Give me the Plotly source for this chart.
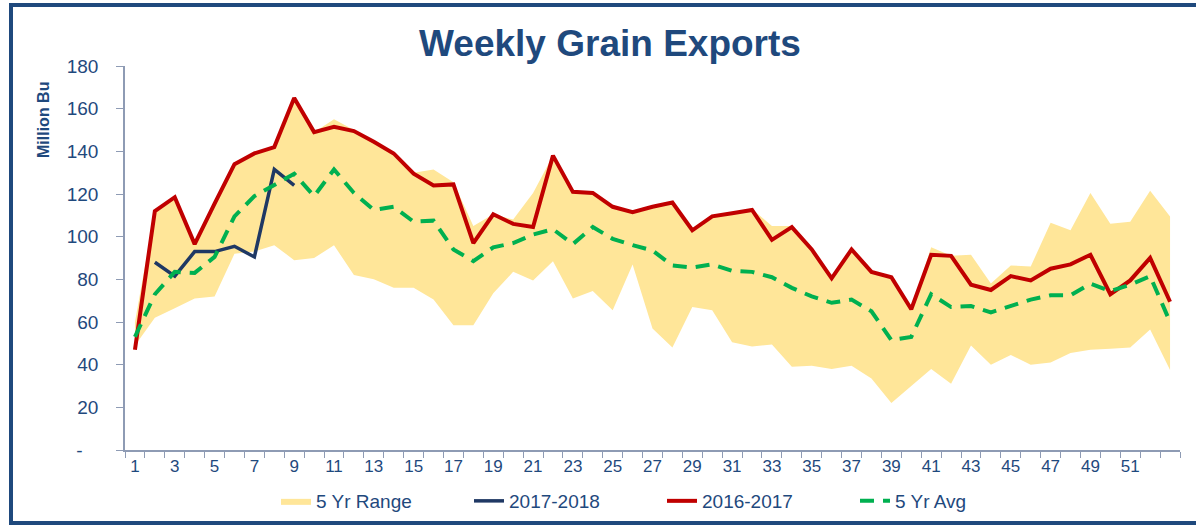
import plotly.graph_objects as go

weeks = list(range(1, 54))

range_low = [49, 62, 66.5, 71, 72, 92, 93, 96, 89, 90, 96, 82, 80, 76, 76, 70.5, 58.5, 58.5,
             73.5, 83.5, 79.5, 88.5, 71, 74.5, 65.5, 87, 57, 48, 67, 65.5, 50.5, 48.5, 49.5,
             39, 39.5, 38, 39.5, 33.5, 22, 30, 38, 31, 49, 40, 44.5, 40, 41, 45.5, 47, 47.5,
             48, 56.5, 37.5]
range_high = [60, 112, 118.5, 97, 115.5, 134, 139, 142, 165, 149, 155, 150, 145, 139.5, 130,
              131.5, 125.5, 105, 110.5, 108, 120.5, 138, 121, 120.5, 114, 111.5, 114, 116, 104,
              110, 111, 113, 105, 105, 94, 81, 94, 84, 81.5, 66.5, 95, 91, 91.5, 78, 86.5, 86,
              106.5, 103, 120.5, 106, 107, 121.5, 109.5]
y2017_2018 = [None, 88, 81.5, 93, 93, 95.5, 90.5, 131.5, 124] + [None] * 44
y2016_2017 = [47, 112, 118.5, 96.5, 115.5, 134, 139, 142, 165, 149, 151.5, 149.5, 144.5, 139,
              129.5, 124, 124.5, 97, 110.5, 106, 104.5, 138, 121, 120.5, 114, 111.5, 114, 116,
              103, 109.5, 111, 112.5, 98.5, 104.5, 94, 80.5, 94, 83.5, 81, 66, 91.5, 91, 77.5,
              75, 81.5, 79.5, 85, 87, 91.5, 73, 79.5, 90, 69.5]
avg5 = [53, 73, 83.5, 83, 90.5, 109.5, 119, 124, 129.5, 119, 131.5, 120.5, 112.5, 114, 107,
        107.5, 94, 88.5, 95, 97, 101, 103.5, 96.5, 104.5, 99, 96, 93.5, 86.5, 85.5, 87, 84,
        83.5, 81, 76, 72, 69, 70.5, 65, 51.5, 53, 73, 67, 67.5, 64.5, 67.5, 70.5, 72.5, 72.5,
        78, 74.5, 77.5, 81.5, 60]

x_tickvals = list(range(1, 52, 2))
x_ticktext = [str(v) for v in x_tickvals]
y_tickvals = list(range(0, 181, 20))
y_ticktext = ['-\u00a0\u00a0\u00a0'] + [str(v) for v in y_tickvals[1:]]

TXT = '#1F497D'
AX = '#8E9BB4'
FONT = 'Liberation Sans, Arial, sans-serif'

W, H = 1196, 525
L, R, T, B = 125, 16, 66, 75
pw, ph = W - L - R, H - T - B

def px_x(p):
    return (p - L) / pw

def px_y(p):
    return (H - B - p) / ph

fig = go.Figure()
fig.add_trace(go.Scatter(x=weeks, y=range_low, mode='lines', line=dict(width=0),
                         showlegend=False, hoverinfo='skip'))
fig.add_trace(go.Scatter(x=weeks, y=range_high, mode='lines', line=dict(width=0),
                         fill='tonexty', fillcolor='#FFE699', name='5 Yr Range'))
fig.add_trace(go.Scatter(x=weeks, y=y2017_2018, mode='lines', name='2017-2018',
                         line=dict(color='#1F3864', width=3.5)))
fig.add_trace(go.Scatter(x=weeks, y=y2016_2017, mode='lines', name='2016-2017',
                         line=dict(color='#C00000', width=4)))
fig.add_trace(go.Scatter(x=weeks, y=avg5, mode='lines', name='5 Yr Avg',
                         line=dict(color='#00B050', width=4, dash='14px,9px')))

fig.update_layout(
    width=W, height=H,
    margin=dict(l=L, r=R, t=T, b=B, autoexpand=False),
    plot_bgcolor='white', paper_bgcolor='white',
    font=dict(family=FONT, color=TXT),
    title=dict(text='<b>Weekly Grain Exports</b>', x=610 / W, xanchor='center',
               xref='container', yref='container', y=1 - 43 / H, yanchor='middle',
               font=dict(size=37, color=TXT, family=FONT)),
    xaxis=dict(range=[0.5, 53.5], tickmode='array', tickvals=x_tickvals, ticktext=x_ticktext,
               ticks='', showline=True, linecolor=AX, linewidth=1.5, showgrid=False,
               zeroline=False, tickfont=dict(size=17, color=TXT), automargin=False,
               minor=dict(tickmode='array', tickvals=[0.5 + i for i in range(54)],
                          ticks='outside', ticklen=6, tickcolor=AX, tickwidth=1, showgrid=False)),
    yaxis=dict(range=[0, 180], tickmode='array', tickvals=y_tickvals, ticktext=y_ticktext,
               ticks='outside', ticklen=7, tickcolor=AX, showline=True, linecolor=AX,
               linewidth=1.5, showgrid=False, zeroline=False, automargin=False,
               tickfont=dict(size=19, color=TXT), ticklabelstandoff=14),
    legend=dict(orientation='h', xref='container', yref='container', x=662 / W,
                xanchor='center', y=1 - 501 / H, yanchor='middle',
                font=dict(size=19, color=TXT), traceorder='normal',
                entrywidth=148, entrywidthmode='pixels', bgcolor='rgba(0,0,0,0)'),
    annotations=[dict(text='<b>Million Bu</b>', textangle=-90, xref='paper', yref='paper',
                      x=px_x(43), y=px_y(120), xanchor='center', yanchor='middle',
                      showarrow=False, font=dict(size=16, color=TXT))],
    shapes=[dict(type='rect', xref='paper', yref='paper', x0=px_x(11), x1=px_x(1210),
                 y0=px_y(523), y1=px_y(5), line=dict(color='#1F497D', width=4),
                 fillcolor='rgba(0,0,0,0)', layer='above')],
)

fig.write_html('out.html', config={'displayModeBar': False},
               post_script="document.body.style.margin='0';document.body.style.overflow='hidden';")
